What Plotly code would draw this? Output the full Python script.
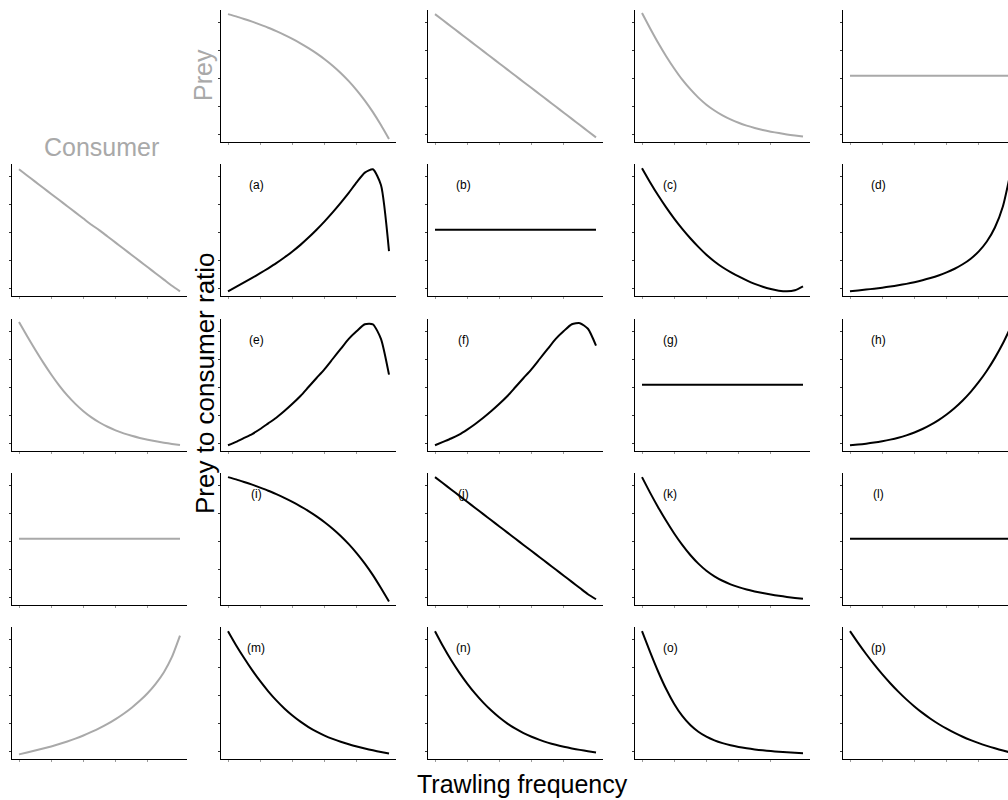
import plotly.graph_objects as go

# Trawling frequency (relative units) shared by every panel
FREQ = [0.00, 0.05, 0.10, 0.15, 0.20, 0.25, 0.30, 0.35, 0.40, 0.45, 0.50,
        0.55, 0.60, 0.65, 0.70, 0.75, 0.80, 0.85, 0.90, 0.95, 1.00]

# Prey response to trawling (top row, grey)
prey_1 = [1.07, 1.05, 1.027, 1.003, 0.977, 0.949, 0.918, 0.885, 0.849, 0.81, 0.767,
          0.72, 0.668, 0.61, 0.545, 0.472, 0.39, 0.298, 0.195, 0.08, -0.045]
prey_2 = [1.07, 1.015, 0.96, 0.905, 0.85, 0.795, 0.74, 0.685, 0.63, 0.575, 0.52,
          0.465, 0.41, 0.355, 0.30, 0.245, 0.19, 0.135, 0.08, 0.025, -0.03]
prey_3 = [1.08, 0.945, 0.815, 0.695, 0.585, 0.485, 0.40, 0.325, 0.262, 0.21, 0.166,
          0.13, 0.10, 0.075, 0.054, 0.036, 0.021, 0.008, -0.004, -0.014, -0.023]
prey_4 = [0.52] * 21

# Consumer response to trawling (left column, grey)
consumer_1 = [1.06, 1.005, 0.95, 0.895, 0.84, 0.785, 0.73, 0.675, 0.62, 0.565, 0.515,
              0.46, 0.405, 0.35, 0.295, 0.24, 0.185, 0.13, 0.075, 0.02, -0.03]
consumer_2 = [1.08, 0.955, 0.835, 0.72, 0.612, 0.513, 0.425, 0.349, 0.284, 0.229, 0.183,
              0.145, 0.113, 0.086, 0.064, 0.045, 0.029, 0.015, 0.003, -0.008, -0.018]
consumer_3 = [0.52] * 21
consumer_4 = [-0.03, -0.013, 0.004, 0.022, 0.041, 0.062, 0.085, 0.11, 0.138, 0.17, 0.204,
              0.242, 0.285, 0.333, 0.387, 0.448, 0.518, 0.602, 0.704, 0.84, 1.03]

# Resulting prey-to-consumer ratio (inner panels, black)
ratio_a = [-0.03, 0.01, 0.05, 0.09, 0.132, 0.176, 0.222, 0.272, 0.326, 0.385, 0.45,
           0.52, 0.595, 0.675, 0.76, 0.85, 0.945, 1.03, 1.06, 0.92, 0.33]
ratio_b = [0.52] * 21
ratio_c = [1.07, 0.945, 0.828, 0.72, 0.62, 0.528, 0.444, 0.367, 0.297, 0.237, 0.185,
           0.142, 0.103, 0.068, 0.037, 0.011, -0.009, -0.024, -0.03, -0.02, 0.015]
ratio_d = [-0.03, -0.022, -0.014, -0.006, 0.003, 0.013, 0.024, 0.037, 0.052, 0.069, 0.089,
           0.112, 0.139, 0.172, 0.212, 0.262, 0.327, 0.415, 0.54, 0.73, 1.05]
ratio_e = [-0.02, 0.01, 0.045, 0.08, 0.125, 0.175, 0.225, 0.285, 0.35, 0.42, 0.50,
           0.58, 0.66, 0.75, 0.84, 0.93, 1.00, 1.06, 1.06, 0.93, 0.61]
ratio_f = [-0.02, 0.01, 0.04, 0.075, 0.12, 0.17, 0.225, 0.285, 0.35, 0.42, 0.50,
           0.58, 0.66, 0.75, 0.84, 0.93, 1.00, 1.06, 1.07, 1.02, 0.87]
ratio_g = [0.52] * 21
ratio_h = [-0.02, -0.014, -0.006, 0.004, 0.016, 0.03, 0.047, 0.068, 0.094, 0.125, 0.162,
           0.205, 0.255, 0.313, 0.38, 0.457, 0.545, 0.645, 0.76, 0.89, 1.04]
ratio_i = [1.07, 1.05, 1.027, 1.003, 0.977, 0.949, 0.918, 0.885, 0.849, 0.81, 0.767,
           0.72, 0.668, 0.61, 0.545, 0.472, 0.39, 0.298, 0.195, 0.08, -0.04]
ratio_j = [1.07, 1.015, 0.96, 0.905, 0.85, 0.795, 0.74, 0.685, 0.63, 0.575, 0.52,
           0.465, 0.41, 0.355, 0.30, 0.245, 0.19, 0.135, 0.08, 0.025, -0.02]
ratio_k = [1.07, 0.932, 0.802, 0.68, 0.567, 0.465, 0.375, 0.298, 0.235, 0.185, 0.145,
           0.113, 0.088, 0.067, 0.05, 0.035, 0.022, 0.011, 0.001, -0.008, -0.016]
ratio_l = [0.52] * 21
ratio_m = [1.07, 0.945, 0.83, 0.722, 0.623, 0.533, 0.452, 0.38, 0.317, 0.262, 0.214,
           0.173, 0.138, 0.108, 0.082, 0.06, 0.04, 0.022, 0.006, -0.009, -0.023]
ratio_n = [1.07, 0.935, 0.812, 0.702, 0.602, 0.512, 0.432, 0.361, 0.299, 0.245, 0.199,
           0.16, 0.127, 0.099, 0.075, 0.055, 0.038, 0.023, 0.01, -0.002, -0.013]
ratio_o = [1.07, 0.885, 0.71, 0.553, 0.42, 0.313, 0.232, 0.172, 0.128, 0.095, 0.07,
           0.051, 0.036, 0.024, 0.014, 0.006, -0.001, -0.007, -0.012, -0.016, -0.02]
ratio_p = [1.07, 0.965, 0.866, 0.773, 0.686, 0.605, 0.53, 0.461, 0.398, 0.34, 0.288,
           0.241, 0.199, 0.161, 0.127, 0.097, 0.07, 0.046, 0.024, 0.004, -0.015]

PREY = [prey_1, prey_2, prey_3, prey_4]
CONSUMER = [consumer_1, consumer_2, consumer_3, consumer_4]
RATIO = [ratio_a, ratio_b, ratio_c, ratio_d,
         ratio_e, ratio_f, ratio_g, ratio_h,
         ratio_i, ratio_j, ratio_k, ratio_l,
         ratio_m, ratio_n, ratio_o, ratio_p]
RATIO_LABELS = ["(a)", "(b)", "(c)", "(d)", "(e)", "(f)", "(g)", "(h)",
                "(i)", "(j)", "(k)", "(l)", "(m)", "(n)", "(o)", "(p)"]

# ---- layout geometry (pixels) ----
FIG_W, FIG_H = 1008, 800
COL_LEFT = [12, 221, 428, 635, 843]
ROW_BOTTOM = [142, 296, 451, 605, 759]
PANEL_W, PANEL_H = 175, 132
X_PAD, X_SCALE = 7, 161      # px before x=0, px per unit
Y_PAD, Y_SCALE = 8, 112      # px below y=0, px per unit

GREY = "#a9a9a9"
FONT = "Liberation Sans, Arial, Helvetica, sans-serif"

fig = go.Figure()
layout_axes = {}
annotations = []
k = 0


def add_panel(row, col, values, color, label=None):
    global k
    k += 1
    sfx = "" if k == 1 else str(k)
    L = COL_LEFT[col]
    R = min(L + PANEL_W, FIG_W)
    yb = ROW_BOTTOM[row]
    x_dom = [L / FIG_W, R / FIG_W]
    y_dom = [(FIG_H - yb) / FIG_H, (FIG_H - yb + PANEL_H) / FIG_H]
    x0 = -X_PAD / X_SCALE
    common = dict(showline=True, linecolor="black", linewidth=1.2, showgrid=False,
                  zeroline=False, showticklabels=False, ticks="outside", ticklen=2,
                  tickwidth=1, fixedrange=True)
    layout_axes["xaxis" + sfx] = dict(domain=x_dom, range=[x0, x0 + (R - L) / X_SCALE],
                                      anchor="y" + sfx, tickvals=[0, 0.2, 0.4, 0.6, 0.8],
                                      tickcolor="#9a9a9a", **common)
    layout_axes["yaxis" + sfx] = dict(domain=y_dom,
                                      range=[-Y_PAD / Y_SCALE, (PANEL_H - Y_PAD) / Y_SCALE],
                                      anchor="x" + sfx, tickvals=[0, 0.25, 0.5, 0.75, 1.0],
                                      tickcolor="#333", **common)
    fig.add_trace(go.Scatter(x=FREQ, y=values, mode="lines",
                             line=dict(color=color, width=2, shape="spline", smoothing=0.6),
                             xaxis="x" + sfx, yaxis="y" + sfx, showlegend=False,
                             hoverinfo="skip"))
    if label:
        annotations.append(dict(text=label, xref="paper", yref="paper",
                                x=(L + 35) / FIG_W, y=(FIG_H - (yb - PANEL_H + 21)) / FIG_H,
                                xanchor="center", yanchor="middle", showarrow=False,
                                font=dict(family=FONT, size=12, color="black")))


for c in range(4):
    add_panel(0, c + 1, PREY[c], GREY)
for r in range(4):
    add_panel(r + 1, 0, CONSUMER[r], GREY)
    for c in range(4):
        i = r * 4 + c
        add_panel(r + 1, c + 1, RATIO[i], "black", RATIO_LABELS[i])

annotations += [
    dict(text="Consumer", x=101 / FIG_W, y=(FIG_H - 147) / FIG_H,
         font=dict(family=FONT, size=25, color=GREY)),
    dict(text="Prey", x=203 / FIG_W, y=(FIG_H - 75) / FIG_H, textangle=-90,
         font=dict(family=FONT, size=25, color=GREY)),
    dict(text="Prey to consumer ratio", x=205 / FIG_W, y=(FIG_H - 383) / FIG_H,
         textangle=-90, font=dict(family=FONT, size=26, color="black")),
    dict(text="Trawling frequency", x=522 / FIG_W, y=(FIG_H - 784) / FIG_H,
         font=dict(family=FONT, size=25, color="black")),
]
for a in annotations[-4:]:
    a.update(xref="paper", yref="paper", xanchor="center", yanchor="middle",
             showarrow=False)

fig.update_layout(width=FIG_W, height=FIG_H, margin=dict(l=0, r=0, t=0, b=0),
                  paper_bgcolor="white", plot_bgcolor="white",
                  annotations=annotations, **layout_axes)

fig.write_html("out.html")
